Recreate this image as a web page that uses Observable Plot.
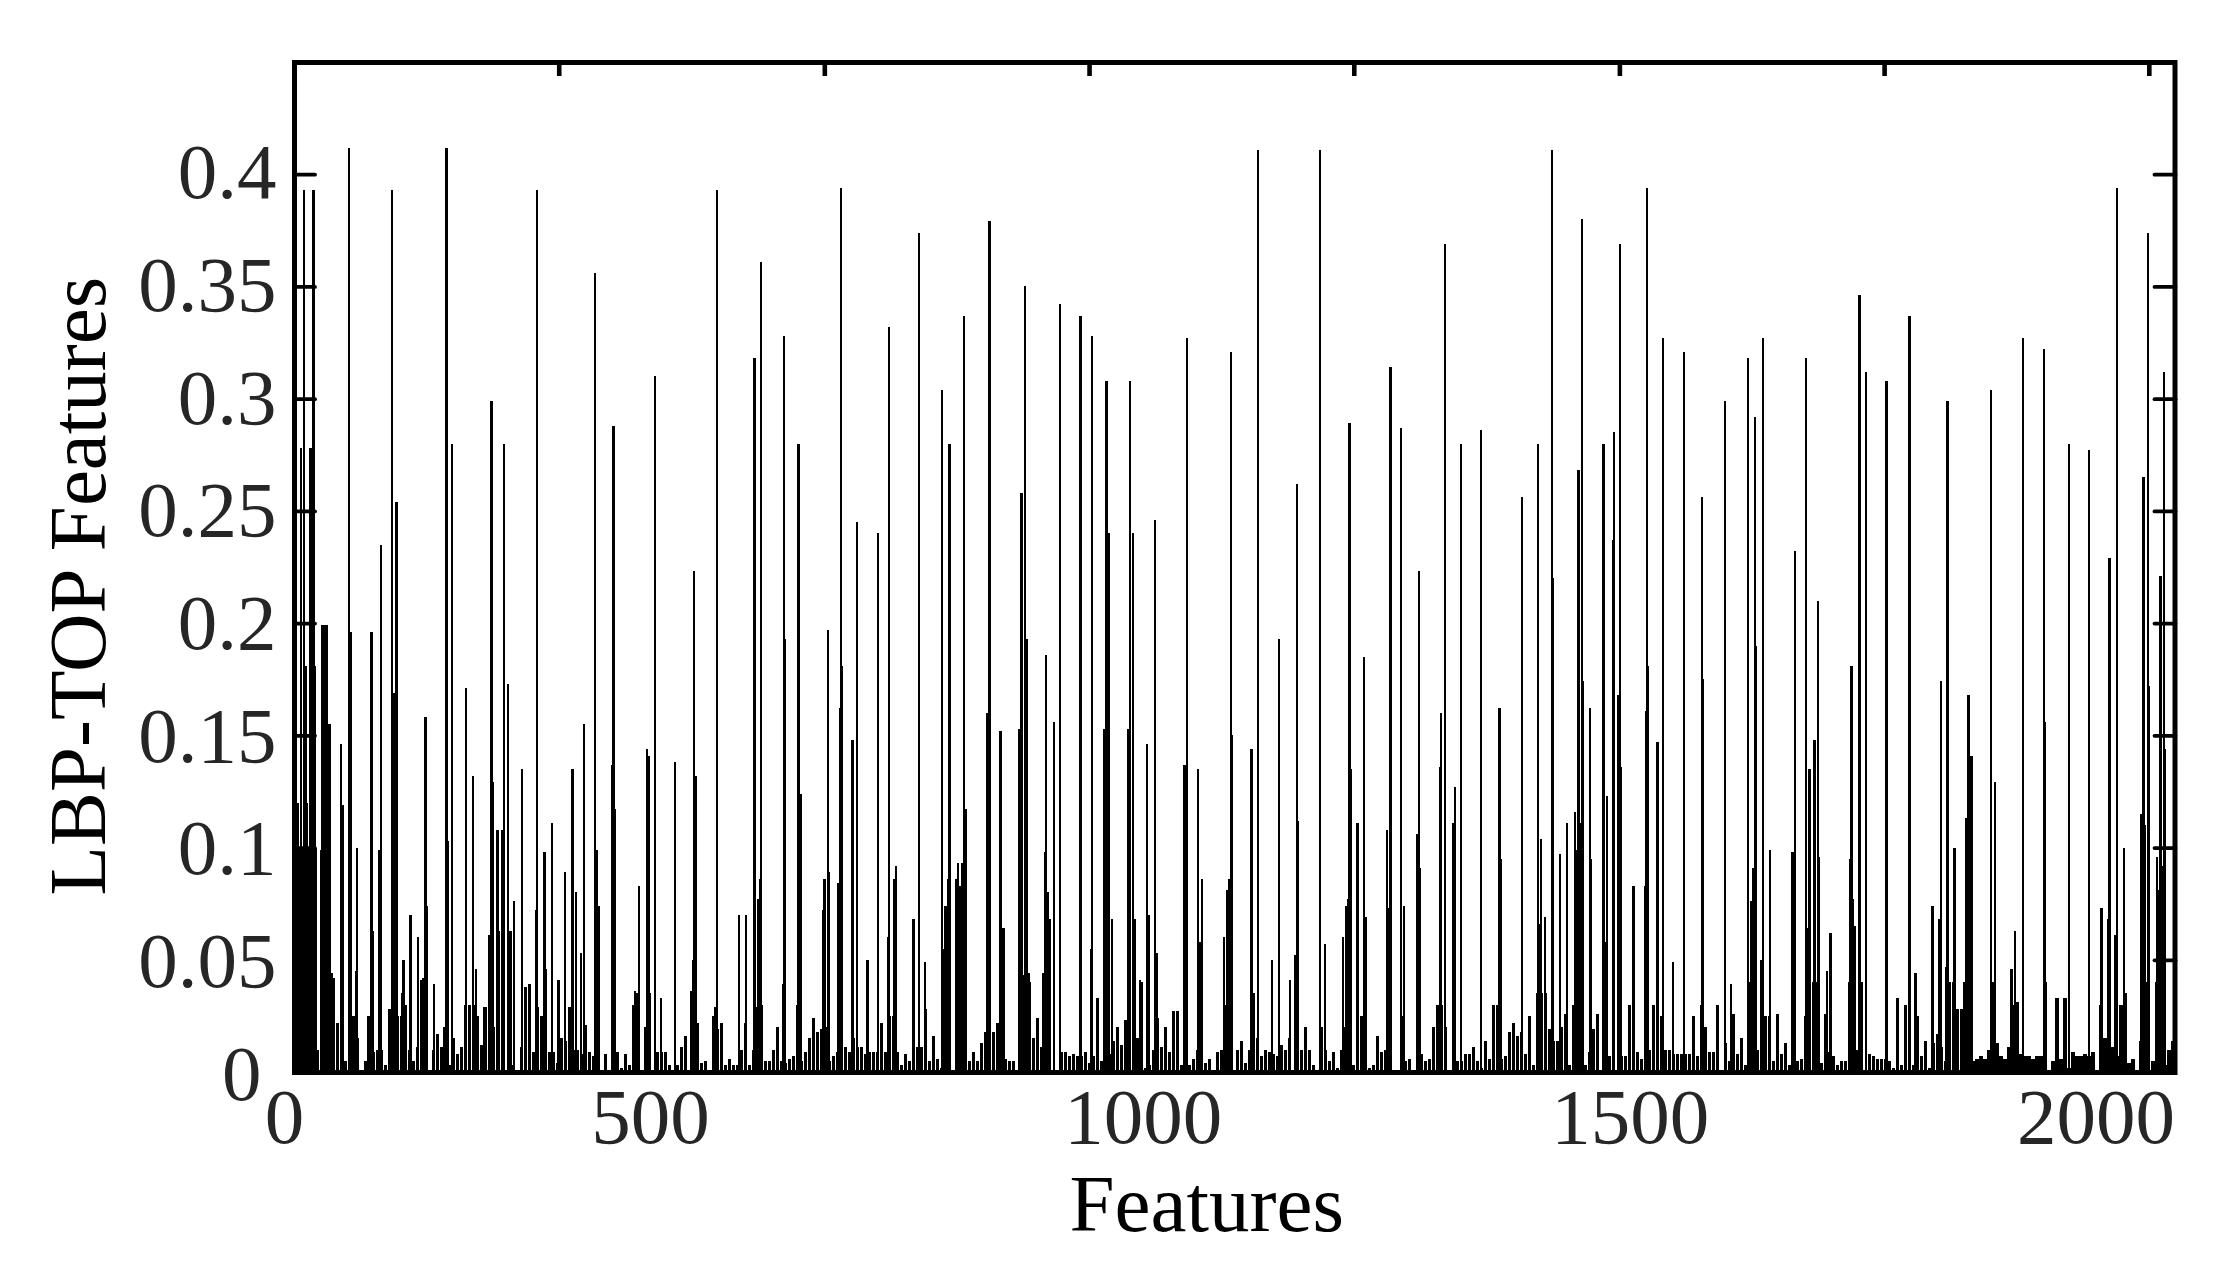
<!DOCTYPE html>
<html>
<head>
<meta charset="utf-8">
<style>html,body{margin:0;padding:0;background:#fff;overflow:hidden}svg{display:block}</style>
<script src="https://cdn.jsdelivr.net/npm/d3@7"></script>
<script src="https://cdn.jsdelivr.net/npm/@observablehq/plot@0.6"></script>
</head>
<body>
<div id="chart"></div>
<script>
// Tall and medium spikes: [feature index, value]
const spikesLeft = [[10.9,.393],[21.4,.393],[7.6,.278],[18,.278],[12.3,.181],[22.8,.181],[3.8,.12],[14.2,.12],
[5,.1],[6,.1],[7,.1],[8,.1],[9,.1],[10,.1],[11,.1],[12,.1],[13,.1],[15,.1],[16,.1],[17,.1],[19,.1],[20,.1],[21,.1],[22,.1],[23,.1],[24,.1],
[30,.099],[31,.199],[32,.199],[33,.199],[34,.199],[35,.199],[36,.199],[37,.199],[38,.155],[39,.155],[40,.155],[41,.044],[42,.044],[44.2,.042],[48,.021],
[52.7,.146],[54.2,.119],[61.8,.4115],[63.2,.196],[64.1,.088],[69.4,.045],[70.8,.1],[83,.025],[87,.196],[88.8,.063],[95.5,.099],[97.9,.235],
[110.2,.393],[111.2,.053],[113,.169],[115,.254],[121.6,.035],[123,.05],[125.9,.03],[131.1,.07],[139.7,.06],[143,.041],[145.9,.042],[147.8,.158],[149.2,.074],
[157.8,.039],[169,.02],[171.5,.4115],[173,.103],[177.7,.28],[193.4,.171],[201.5,.132],[205.3,.046],[213.8,.029],[220,.061],[222.4,.299],[223.8,.129],
[229.5,.108],[231,.063],[234.7,.108],[236.6,.28],[241.4,.173],[243.8,.063],[248,.076],[257,.135],[273.2,.072],[274.2,.393],[282.3,.098],[283.7,.046],
[290.8,.111],[298.4,.041],[305.5,.089],[314,.135],[317.9,.08],[323.6,.053],[326.9,.155],[339.3,.356],[341.2,.099],[343.5,.074],[358.8,.137],[360.2,.288],[361.6,.117],
[384.4,.036],[389.2,.083],[398.2,.144],[400.6,.141],[407.2,.31],[413.9,.033],[430,.138],[448.1,.036],[450,.05],[451.4,.223],[452.9,.132],[475.7,.029],[477,.393],
[501.8,.07],[509.9,.07],[519.4,.318],[520.3,.102],[523.2,.077],[525.5,.086],[527,.361],[551.7,.039],[553.1,.328],[554.1,.193],[569.3,.28],[570,.058],[572.1,.124],
[597.3,.072],[598.7,.086],[602.5,.197],[604,.089],[614.4,.084],[616.3,.162],[617.3,.394],[618.7,.181],[630.1,.148],[635.3,.245],[647.2,.05],[659.1,.24],
[670.5,.06],[671.5,.332],[677.6,.086],[679.5,.092],[699,.068],[705.2,.374],[712.3,.049]];

const spikesMiddle = [[731.6,.304],[733,.055],[735.4,.074],[737.8,.086],[739.7,.28],[747.8,.086],[749.7,.093],[752,.083],[754.4,.093],[756.3,.337],[757.7,.117],
[782,.16],[784.8,.379],[797.2,.152],[801,.064],[819,.153],[821,.258],[822.4,.043],[825.2,.35],[827.6,.193],[829.5,.044],[846.1,.044],[847.6,.098],[849,.186],[850.9,.08],[852.8,.068],
[858,.156],[864.7,.342],[888,.337],[899.8,.055],[900.8,.328],[915,.153],[917,.308],[920.3,.24],[923.6,.068],[942,.153],[944,.308],[947.3,.24],[949.3,.068],[955,.041],
[963,.146],[964.5,.07],[972,.246],[973.5,.053],[1005.3,.137],[1007.7,.137],[1008.2,.327],[1020.5,.135],[1023.4,.058],[1025.3,.086],[1050,.06],[1053.8,.081],[1056.2,.086],[1057.6,.321],[1059,.15],
[1080.9,.144],[1083.3,.035],[1088,.411],[1104.2,.05],[1111.8,.193],[1124.6,.041],[1130.8,.052],[1132.2,.262],[1133.6,.112],[1158.3,.411],[1164,.057],
[1184.5,.06],[1187.8,.074],[1190.2,.077],[1191.6,.289],[1193,.135],[1200.6,.111],[1207.8,.185],[1209.7,.069],[1233.9,.108],[1235.8,.073],[1237.7,.314],[1249.6,.287],[1252.9,.074],
[1268.6,.106],[1270,.223],[1271.4,.091],[1294.2,.136],[1295.2,.16],[1299.5,.369],[1308.5,.111],[1310.9,.127],[1317.5,.28],[1339.9,.286],[1361.2,.162],[1362.7,.095],[1386.4,.256],
[1404.5,.28],[1405.9,.066],[1407.8,.104],[1412.1,.069],[1420.2,.411],[1421.6,.22],[1429.2,.097],[1437.3,.111],[1446.3,.116],[1447.7,.099],[1450.1,.268]];

const spikesRight = [[1451.4,.111],[1454.2,.38],[1455.6,.174],[1463.2,.162],[1464.7,.095],[1478.4,.28],[1479.9,.058],[1482.3,.123],[1488.9,.237],[1490.3,.285],[1495.6,.168],[1497,.369],[1498.4,.136],
[1512.2,.083],[1525.5,.083],[1526.4,.161],[1527.4,.394],[1528.8,.181],[1539.3,.147],[1545.4,.327],[1556.9,.049],[1569.2,.321],[1589.6,.256],[1591,.175],[1615.8,.299],[1622.4,.039],
[1641.4,.318],[1645.7,.076],[1647.1,.091],[1649.5,.292],[1650.9,.19],[1657.1,.05],[1658.5,.327],[1666.6,.099],[1691.8,.098],[1694.7,.232],[1707.5,.318],[1708.9,.064],[1711.3,.135],[1717,.148],[1720.8,.21],[1722.2,.096],
[1730.8,.045],[1735,.062],[1757.4,.095],[1758.8,.181],[1760.3,.077],[1762.1,.065],[1767.8,.346],[1775,.312],[1798.3,.308],[1823.9,.337],[1831,.044],[1850,.074],[1858.1,.068],[1859.5,.174],[1865.7,.047],[1867.2,.299],[1874.8,.1],
[1887.6,.113],[1890.9,.168],[1894.3,.141],[1916.1,.304],[1920.4,.129],[1939.4,.046],[1943.2,.063],[1952.2,.327],[1976,.322],[1977.4,.156],[2004,.28],[2026.8,.277],[2041.1,.073],[2048.7,.068],[2050.1,.229],[2056.8,.061],[2058.2,.394],[2066.3,.1],
[2086.2,.115],[2088.6,.265],[2090,.11],[2093.4,.374],[2094.8,.172],[2103.8,.096],[2105.7,.081],[2107.6,.221],[2109,.092],[2111.4,.312],[2112.8,.144]];

// Low values along the baseline, in reading order, one every few features (thousandths)
const lowStep = 4.517;
const lowA = {from:26, v:[10,15,15,15,12,22,19,5,11,25,15,1,5,25,9,10,10,3,28,10,25,25,30,10,5,11,11,11,1,10,17,11,20,3,15,8,11,30,30,30,25,12,29,3,20,20,1,1,5,3,1,11,38,39,9,29,25,26,9,9,4,15,14,29,10,10,8,21,9,7,7,1,8,1,9,9,2,8,3,30,35,1,20,35,1,9,9,9,3,1,3,11,16,1,16,22,4,5,1,25,19,22,3,6,3,3,10,22,3,10,29,30]};
const lowB = {from:531.8, v:[5,5,10,20,5,4,6,7,30,5,9,15,24,18,19,20,5,7,9,9,11,9,15,11,11,8,9,9,9,22,9,25,25,9,3,8,5,1,11,11,28,5,16,6,2,30,30,1,10,20,1,5,9,5,13,18,8,18,22,11,6,5,5,1,40,40,40,15,24,11,7,5,1,1,9,9,7,8,7,7,9,4,7,33,5,1,8,14,20,12,23,30,30,15,40,2,3,10,24,11,20,9,27,27,3,30,3,6,10,18,4,6,1,9,10,30,30,1,10,14]};
const lowC = {from:1073.9, v:[4,10,15,15,7,10,9,8,7,12,10,15,1,28,10,20,10,3,1,20,10,5,9,2,10,20,30,3,20,25,5,2,3,16,9,10,9,1,1,25,5,6,1,30,8,5,6,20,30,30,20,1,15,5,5,8,8,11,5,2,14,6,30,30,6,7,18,22,16,18,8,25,3,35,35,35,19,14,14,20,26,3,30,40,40,3,9,19,26,1,30,7,30,1,7,7,30,35,9,6,35,10,30,20,25,10,10,8,8,8,8,8,25,7,30,20,9,9,30,1]};
const lowD = {from:1615.9, v:[13,5,26,8,15,3,40,40,10,4,25,25,5,26,8,13,3,40,5,6,25,40,40,40,4,26,9,7,3,5,5,40,40,10,40,1,8,7,6,6,6,5,2,33,3,30,17,3,25,7,14,2,13,17,11,5,40,40,28,28,40,40,5,6,7,6,10,40,13,7,6,11,30,31,8,7,7,6,7,7,40,1,5,33,6,33,2,9,7,7,8,7,9,1,30,15,30,11,7,30,35,4,6,1,14,40,1,5,40,40,3,10,14]};

const yTicks = [0.05,0.1,0.15,0.2,0.25,0.3,0.35,0.4];
const yTickLabels = ["0.4","0.35","0.3","0.25","0.2","0.15","0.1","0.05"];
const yTickLabelAt = [.3999,.3497,.2995,.2492,.199,.1488,.0986,.0484];
const yZeroLabel = ["0"];
const yZeroLabelAt = [-.0018];
const xTopTicks = [299,599,898,1197,1497,1796,2095];
const xTickLabels = ["0","500","1000","1500","2000"];
const xTickLabelAt = [-11.3,402,958.7,1508.6,2034.8];

const spikes = [...spikesLeft, ...spikesMiddle, ...spikesRight].map(([x, v]) => ({x, v}));
const low = [lowA, lowB, lowC, lowD].flatMap(({from, v}) => v.map((m, i) => ({x: from + i * lowStep, v: m / 1000})));

const serif = "'Liberation Serif','Times New Roman',serif";
const tickText = {fontSize: 79, fill: "#262626", fontFamily: serif};
const titleText = {fontSize: 81, fill: "#000", fontFamily: serif};

const chart = Plot.plot({
  width: 2239, height: 1283,
  marginLeft: 294, marginRight: 64.5, marginTop: 62, marginBottom: 211,
  style: {background: "#fff", fontFamily: serif},
  x: {domain: [0, 2124], axis: null},
  y: {domain: [0, 0.45], axis: null},
  marks: [
    Plot.ruleX(low, {x: "x", y1: 0, y2: "v", stroke: "#000", strokeWidth: 3.2, shapeRendering: "crispEdges"}),
    Plot.ruleX(spikes, {x: "x", y1: 0, y2: "v", stroke: "#000", strokeWidth: 2.4, shapeRendering: "crispEdges"}),
    Plot.axisY({anchor: "left", ticks: yTicks, tickSize: -21, tickFormat: () => "", label: null, strokeWidth: 3.8, strokeLinecap: "round"}),
    Plot.axisY({anchor: "right", ticks: yTicks, tickSize: -21, tickFormat: () => "", label: null, strokeWidth: 3.8, strokeLinecap: "round"}),
    Plot.axisX({anchor: "top", ticks: xTopTicks, tickSize: -13, tickFormat: () => "", label: null, strokeWidth: 4.6}),
    Plot.frame({stroke: "#000", strokeWidth: 5}),
    Plot.text(yTickLabels, {y: yTickLabelAt, frameAnchor: "left", textAnchor: "end", dx: -18, dy: -2, ...tickText}),
    Plot.text(yZeroLabel, {y: yZeroLabelAt, frameAnchor: "left", textAnchor: "end", dx: -33, dy: -2, ...tickText}),
    Plot.text(xTickLabels, {x: xTickLabelAt, frameAnchor: "bottom", lineAnchor: "bottom", dy: 70, ...tickText}),
    Plot.text(["Features"], {frameAnchor: "bottom", lineAnchor: "bottom", dx: -28, dy: 158, ...titleText}),
    Plot.text(["LBP-TOP Features"], {frameAnchor: "left", textAnchor: "middle", lineAnchor: "bottom", rotate: -90, dx: -190, dy: 18.6, ...titleText})
  ]
});
document.getElementById("chart").append(chart);
</script>
</body>
</html>
